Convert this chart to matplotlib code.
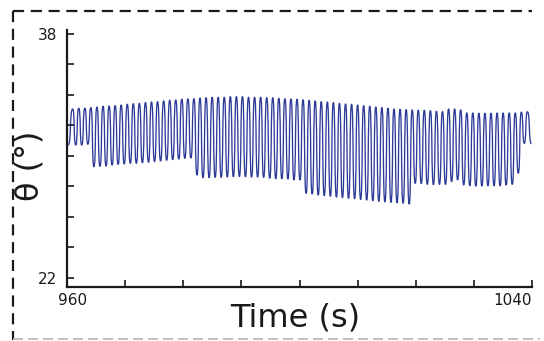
import matplotlib
matplotlib.use("Agg")
import matplotlib.pyplot as plt
from matplotlib.lines import Line2D
from matplotlib.path import Path
from matplotlib.patches import PathPatch
import matplotlib.transforms as mtransforms

# ---- data (per-cycle extremes) ----
start_time = 960.20
start_value = 30.72

peak_times = [960.98, 962.02, 963.07, 964.11, 965.15, 966.20, 967.24, 968.28, 969.32, 970.37,
              971.41, 972.45, 973.50, 974.54, 975.58, 976.63, 977.67, 978.71, 979.75, 980.80,
              981.84, 982.88, 983.93, 984.97, 986.01, 987.06, 988.10, 989.14, 990.18, 991.23,
              992.27, 993.31, 994.36, 995.40, 996.44, 997.49, 998.53, 999.57, 1000.61, 1001.66,
              1002.70, 1003.74, 1004.79, 1005.83, 1006.87, 1007.92, 1008.96, 1010.00, 1011.04, 1012.09,
              1013.13, 1014.17, 1015.22, 1016.26, 1017.30, 1018.35, 1019.39, 1020.43, 1021.47, 1022.52,
              1023.56, 1024.60, 1025.65, 1026.69, 1027.73, 1028.78, 1029.82, 1030.86, 1031.90, 1032.95,
              1033.99, 1035.03, 1036.08, 1037.12, 1038.16, 1039.20]
peak_values = [33.08, 33.13, 33.13, 33.17, 33.21, 33.26, 33.28, 33.30, 33.34, 33.39, 33.43, 33.45,
               33.50, 33.54, 33.56, 33.61, 33.65, 33.67, 33.72, 33.74, 33.76, 33.80, 33.82, 33.85,
               33.85, 33.85, 33.89, 33.89, 33.89, 33.85, 33.85, 33.85, 33.82, 33.82, 33.78, 33.75,
               33.74, 33.72, 33.69, 33.65, 33.61, 33.56, 33.54, 33.50, 33.45, 33.41, 33.39, 33.34, 33.30,
               33.26, 33.21, 33.17, 33.13, 33.08, 33.06, 33.04, 33.02, 33.00, 33.00, 32.97, 32.93,
               32.91, 33.08, 33.08, 33.02, 32.82, 32.82, 32.80, 32.80, 32.80, 32.82, 32.82, 32.82,
               32.82, 32.87, 32.90]

trough_times = [961.50, 962.54, 963.59, 964.63, 965.67, 966.72, 967.76, 968.80, 969.84, 970.89,
                971.93, 972.97, 974.02, 975.06, 976.10, 977.15, 978.19, 979.23, 980.27, 981.32,
                982.36, 983.40, 984.45, 985.49, 986.53, 987.58, 988.62, 989.66, 990.70, 991.75,
                992.79, 993.83, 994.88, 995.92, 996.96, 998.01, 999.05, 1000.09, 1001.13, 1002.18,
                1003.22, 1004.26, 1005.31, 1006.35, 1007.39, 1008.44, 1009.48, 1010.52, 1011.56, 1012.61,
                1013.65, 1014.69, 1015.74, 1016.78, 1017.82, 1018.87, 1019.91, 1020.95, 1021.99, 1023.04,
                1024.08, 1025.12, 1026.17, 1027.21, 1028.25, 1029.30, 1030.34, 1031.38, 1032.42, 1033.47,
                1034.51, 1035.55, 1036.60, 1037.64, 1038.68, 1039.90]
trough_values = [30.72, 30.72, 30.77, 29.30, 29.32, 29.34, 29.41, 29.45, 29.48, 29.52,
                 29.52, 29.56, 29.59, 29.63, 29.67, 29.72, 29.76, 29.80, 29.85, 29.87,
                 28.75, 28.58, 28.58, 28.60, 28.60, 28.62, 28.64, 28.66, 28.64, 28.62,
                 28.62, 28.60, 28.54, 28.51, 28.51, 28.49, 28.43, 28.43, 27.55, 27.51,
                 27.44, 27.40, 27.36, 27.31, 27.27, 27.22, 27.20, 27.15, 27.11, 27.07,
                 27.03, 27.00, 26.96, 26.94, 26.90, 26.85, 28.21, 28.19, 28.14, 28.12,
                 28.14, 28.14, 28.32, 28.43, 28.10, 28.05, 28.03, 28.03, 28.05, 28.05,
                 28.05, 28.10, 28.14, 28.87, 30.83, 30.80]

x_ticks = [960, 970, 980, 990, 1000, 1010, 1020, 1030, 1040]
x_ticklabels = ["960", "", "", "", "", "", "", "", "1040"]
y_ticks = [22, 24, 26, 28, 30, 32, 34, 36, 38]
y_ticklabels = ["22", "", "", "", "", "", "", "", "38"]
x_label = "Time (s)"
y_label = "θ (°)"

# ---- trace vertices: the measured extremes in time order ----
t = [start_time]
v = [start_value]
for pt, pv, tt, tv in zip(peak_times, peak_values, trough_times, trough_values):
    t += [pt, tt]
    v += [pv, tv]

W, H = 544, 341
fig = plt.figure(figsize=(W / 100, H / 100), dpi=100)
ax = fig.add_axes([67 / W, (H - 287) / H, (532 - 67) / W, (287 - 30) / H])

# smooth curve through the extremes (horizontal tangent at each extreme)
k = 0.7
verts = [(t[0], v[0])]
codes = [Path.MOVETO]
for i in range(1, len(t)):
    dt = t[i] - t[i - 1]
    verts += [(t[i - 1] + k * dt, v[i - 1]), (t[i] - k * dt, v[i]), (t[i], v[i])]
    codes += [Path.CURVE4] * 3
ax.add_patch(PathPatch(Path(verts, codes), facecolor="none", edgecolor="#2e3a98",
                       lw=0.95, joinstyle="round"))

ax.set_xlim(960, 1040)
ax.set_ylim(21.41, 38.26)
ax.set_xticks(x_ticks)
ax.set_xticklabels(x_ticklabels)
ax.set_yticks(y_ticks)
ax.set_yticklabels(y_ticklabels)

for s in ["top", "right"]:
    ax.spines[s].set_visible(False)
for s in ["left", "bottom"]:
    ax.spines[s].set_linewidth(1.6)
    ax.spines[s].set_color("#1a1a1a")

ax.tick_params(axis="both", direction="in", length=5, width=1.2, colors="#1a1a1a",
               labelsize=11, labelcolor="#1a1a1a")
ax.tick_params(axis="y", pad=7)
ax.tick_params(axis="x", pad=4)

xl = ax.get_xticklabels()
xl[0].set_transform(xl[0].get_transform() + mtransforms.ScaledTranslation(6 / 100, 0, fig.dpi_scale_trans))
xl[-1].set_horizontalalignment("right")

fig.text(30 / W, 1 - 166 / H, y_label, rotation=90, ha="center", va="center",
         fontsize=23, color="#1a1a1a")
fig.text(295 / W, 1 - 318 / H, x_label, ha="center", va="center",
         fontsize=23, color="#1a1a1a")

# dashed frame around the panel
fig.add_artist(Line2D([13 / W, 532 / W], [1 - 11 / H, 1 - 11 / H], transform=fig.transFigure,
                      color="#1a1a1a", lw=1.6, linestyle=(0, (5, 3))))
fig.add_artist(Line2D([13 / W, 13 / W], [1 - 11 / H, 1 - 340 / H], transform=fig.transFigure,
                      color="#1a1a1a", lw=1.6, linestyle=(0, (5, 3))))
fig.add_artist(Line2D([13 / W, 540 / W], [1 - 339 / H, 1 - 339 / H], transform=fig.transFigure,
                      color="#b5b5b5", lw=1.2, linestyle=(0, (6, 3))))

fig.savefig("out.png", dpi=100)
